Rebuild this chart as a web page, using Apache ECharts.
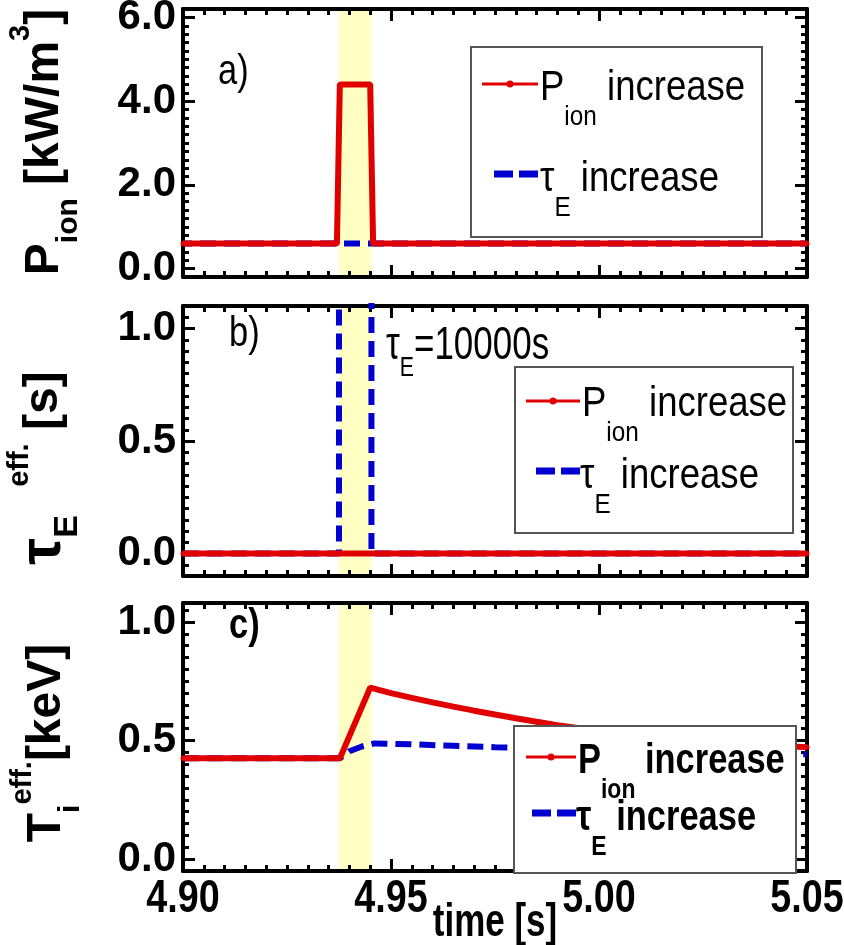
<!DOCTYPE html>
<html>
<head>
<meta charset="utf-8">
<script src="https://cdn.jsdelivr.net/npm/echarts@6/dist/echarts.min.js"></script>
<style>
  html, body { margin: 0; padding: 0; background: #fff; }
  #chart { width: 844px; height: 945px; }
</style>
</head>
<body>
<div id="chart"></div>
<script>
// ---- shared time axis [s] ----
const timeRange = [4.90, 5.05];
const timeTicks = [4.90, 4.95, 5.00, 5.05];
const timeMinorStep = 0.005;
// heating window (shaded)
const pulseWindow = [4.9375, 4.9453];

// ---- a) ion heating power density P_ion [kW/m^3] ----
const pionRange = [-0.2, 6.2];
const pionTicks = [0.0, 2.0, 4.0, 6.0];
const pionMinorStep = 0.2;
const timeA_pionCase = [4.900, 4.9370, 4.9377, 4.9450, 4.9457, 5.050];
const pion_pionCase  = [0.6,   0.6,    4.4,    4.4,    0.6,    0.6];
const timeA_tauCase  = [4.900, 5.050];
const pion_tauCase   = [0.6,   0.6];

// ---- b) effective energy confinement time tau_E [s] ----
const tauRange = [-0.1, 1.1];
const tauTicks = [0.0, 0.5, 1.0];
const tauMinorStep = 0.05;
const TAU_JUMP = 10000;
const timeB_pionCase = [4.900, 5.050];
const tau_pionCase   = [0.0,   0.0];
const timeB_tauCase  = [4.900, 4.9375, 4.9375, 4.9453, 4.9453, 5.050];
const tau_tauCase    = [0.0,   0.0,    TAU_JUMP, TAU_JUMP, 0.0,  0.0];

// ---- c) effective ion temperature T_i [keV] ----
const tiRange = [-0.05, 1.08];
const tiTicks = [0.0, 0.5, 1.0];
const tiMinorStep = 0.05;
const timeC_pionCase = [4.900, 4.9377, 4.945, 4.950, 4.955, 4.960, 4.965, 4.970, 4.975, 4.980,
                        4.985, 4.990, 5.000, 5.010, 5.020, 5.030, 5.040, 5.050];
const ti_pionCase    = [0.425, 0.425, 0.723, 0.700, 0.680, 0.661, 0.643, 0.626, 0.610, 0.594,
                        0.579, 0.565, 0.540, 0.520, 0.505, 0.492, 0.481, 0.472];
const timeC_tauCase  = [4.900, 4.9377, 4.940, 4.943, 4.946, 4.955, 4.965, 4.975, 4.985, 5.000, 5.020, 5.050];
const ti_tauCase     = [0.425, 0.425, 0.455, 0.475, 0.488, 0.484, 0.478, 0.472, 0.467, 0.460, 0.452, 0.442];

// ---- styling ----
const RED = '#e00000';
const BLUE = '#0000d0';
const SHADE = '#ffffc4';
const FONT = "'Liberation Sans', Arial, sans-serif";
const NARROW = 0.82;        // horizontal squeeze that gives the narrow Helvetica look
const NARROW_LEGEND = 0.87; // regular-weight legend text

const grids = [
  { left: 183, right: 37, top: 9,   height: 268, outerBoundsMode: 'none' },
  { left: 183, right: 37, top: 306, height: 270, outerBoundsMode: 'none' },
  { left: 183, right: 37, top: 603, height: 268, outerBoundsMode: 'none' }
];

function steps(lo, hi, step) {
  const out = [];
  const k0 = Math.ceil(lo / step - 1e-9), k1 = Math.floor(hi / step + 1e-9);
  for (let k = k0; k <= k1; k++) out.push(+(k * step).toFixed(6));
  return out;
}

const zip = (xs, ys) => xs.map((x, i) => [x, ys[i]]);

// Four axes per dimension draw a closed frame with inward major and minor ticks.
function frameAxes(dim, gi, range, majors, minorStep, withLabels) {
  const minors = steps(range[0], range[1], minorStep);
  const sides = dim === 'x' ? ['bottom', 'top'] : ['left', 'right'];
  const axes = [];
  sides.forEach((pos, si) => {
    [true, false].forEach(isMajor => {
      const ax = {
        type: 'value', gridIndex: gi, position: pos,
        min: range[0], max: range[1],
        splitLine: { show: false },
        axisLine: { show: isMajor, onZero: false, lineStyle: { color: '#000', width: 4 } },
        axisTick: {
          show: true, inside: true, length: isMajor ? 12 : 6,
          customValues: isMajor ? majors : minors,
          lineStyle: { color: '#000', width: 3 }
        },
        axisLabel: { show: false }
      };
      if (isMajor && si === 0 && withLabels) {
        ax.axisLabel = {
          show: true, customValues: majors, formatter: v => v.toFixed(1),
          color: '#000', fontFamily: FONT, fontWeight: 'bold', fontSize: 42, margin: 7
        };
      }
      axes.push(ax);
    });
  });
  return axes;
}

const yRanges = [pionRange, tauRange, tiRange];
const yTicks = [pionTicks, tauTicks, tiTicks];
const yMinor = [pionMinorStep, tauMinorStep, tiMinorStep];

const xAxes = [], yAxes = [];
for (let gi = 0; gi < 3; gi++) {
  xAxes.push(...frameAxes('x', gi, timeRange, timeTicks, timeMinorStep, false));
  yAxes.push(...frameAxes('y', gi, yRanges[gi], yTicks[gi], yMinor[gi], true));
}

function lineSeries(gi, name, xs, ys, color, dashed, z, dashOffset) {
  return {
    type: 'line', name, xAxisIndex: gi * 4, yAxisIndex: gi * 4,
    data: zip(xs, ys),
    showSymbol: !dashed, symbol: 'circle', symbolSize: 5,
    itemStyle: { color },
    lineStyle: { color, width: 6, type: dashed ? [16, 8] : 'solid', dashOffset: dashOffset || 0 },
    clip: true, animation: false, z
  };
}

const series = [];
const bundles = [
  [timeA_pionCase, pion_pionCase, timeA_tauCase, pion_tauCase],
  [timeB_pionCase, tau_pionCase, timeB_tauCase, tau_tauCase],
  [timeC_pionCase, ti_pionCase, timeC_tauCase, ti_tauCase]
];
bundles.forEach((b, gi) => {
  const tauSeries = lineSeries(gi, '\u03c4E increase', b[2], b[3], BLUE, true, 2, gi === 0 ? 7 : 0);
  tauSeries.markArea = {
    silent: true, itemStyle: { color: SHADE }, z: 0,
    data: [[{ xAxis: pulseWindow[0] }, { xAxis: pulseWindow[1] }]]
  };
  series.push(tauSeries);
  series.push(lineSeries(gi, 'Pion increase', b[0], b[1], RED, false, 3));
});

// ---- text helpers ----
function richSet(color, weight, main, sub, subPad) {
  return {
    m: { fontSize: main, fontWeight: weight, fontFamily: FONT, color, lineHeight: main, verticalAlign: 'top' },
    s: { fontSize: sub, fontWeight: weight, fontFamily: FONT, color, lineHeight: sub, verticalAlign: 'top', padding: [subPad, 0, 0, 0] }
  };
}

function legendBox(box, rows, bold) {
  const w = bold ? 'bold' : 'normal';
  const els = [{
    type: 'rect', shape: { x: box[0], y: box[1], width: box[2], height: box[3] },
    style: { fill: '#fff', stroke: '#555', lineWidth: 2 }, z: 50
  }];
  rows.forEach(r => {
    if (r.kind === 'solid') {
      els.push({ type: 'line', shape: { x1: r.sx[0], y1: r.sy, x2: r.sx[1], y2: r.sy },
        style: { stroke: RED, lineWidth: 3 }, z: 51 });
      els.push({ type: 'circle', shape: { cx: (r.sx[0] + r.sx[1]) / 2, cy: r.sy, r: 3.5 },
        style: { fill: RED }, z: 51 });
    } else {
      els.push({ type: 'line', shape: { x1: r.sx[0], y1: r.sy, x2: r.sx[1], y2: r.sy },
        style: { stroke: BLUE, lineWidth: 7, lineDash: [19, 6] }, z: 51 });
    }
    els.push({ type: 'text', x: r.tx, y: r.ty, z: 52, scaleX: bold ? NARROW : NARROW_LEGEND,
      style: { text: r.text, rich: richSet(r.color, w, 42, 28, 36), verticalAlign: 'top', align: 'left' } });
  });
  return els;
}

const pionLabel = '{m|P}{s|ion}{m| increase}';
const tauLabel = '{m|\u03c4}{s|E}{m| increase}';

function tag(text, x, yMid, bold) {
  return { type: 'text', x, y: yMid, z: 60, scaleX: NARROW,
    style: { text, fontSize: 42, fontWeight: bold ? 'bold' : 'normal', fontFamily: FONT, fill: '#000', verticalAlign: 'middle' } };
}

// rotated y-axis titles (sub- and superscripts through rich text)
function yTitle(text, x, yMid) {
  const tok = (size, pad) => ({ fontSize: size, fontWeight: 'bold', fontFamily: FONT, color: '#000',
    lineHeight: size, verticalAlign: 'top', padding: [pad, 0, 0, 0] });
  return { type: 'text', x, y: yMid, rotation: Math.PI / 2, z: 60,
    style: {
      text, align: 'center', verticalAlign: 'top',
      rich: {
        m:   tok(48, 15),
        big: tok(60, 8),
        sub: tok(30, 48),
        subB: tok(34, 46),
        sup: tok(29, 0)
      }
    } };
}

const chart = echarts.init(document.getElementById('chart'), null, { renderer: 'canvas' });
chart.setOption({
  animation: false,
  backgroundColor: '#fff',
  grid: grids,
  xAxis: xAxes,
  yAxis: yAxes,
  series
});

// time tick labels and axis title under the lowest panel, placed through its x scale
const bottomX = 8, bottomY = 8;
const frameBottom = chart.convertToPixel({ yAxisIndex: bottomY }, tiRange[0]);
const timeLabels = timeTicks.map(v => ({
  type: 'text', x: chart.convertToPixel({ xAxisIndex: bottomX }, v), y: frameBottom + 28, z: 60, scaleX: NARROW,
  style: { text: v.toFixed(2), align: 'center', verticalAlign: 'middle', fontSize: 46, fontWeight: 'bold', fontFamily: FONT, fill: '#000' }
}));
const timeName = {
  type: 'text', x: chart.convertToPixel({ xAxisIndex: bottomX }, 4.975), y: frameBottom + 52, z: 60, scaleX: 0.76,
  style: { text: 'time [s]', align: 'center', verticalAlign: 'middle', fontSize: 46, fontWeight: 'bold', fontFamily: FONT, fill: '#000' }
};

chart.setOption({
  graphic: [
    ...legendBox([471, 47, 291, 190], [
      { kind: 'solid', sx: [482, 538], sy: 84, tx: 540, ty: 67, text: pionLabel, color: RED },
      { kind: 'dash', sx: [494, 538], sy: 174, tx: 540, ty: 158, text: tauLabel, color: BLUE }
    ], false),
    ...legendBox([515, 367, 278, 166], [
      { kind: 'solid', sx: [526, 580], sy: 401, tx: 582, ty: 383, text: pionLabel, color: RED },
      { kind: 'dash', sx: [536, 580], sy: 471, tx: 580, ty: 455, text: tauLabel, color: BLUE }
    ], false),
    ...legendBox([514, 726, 282, 147], [
      { kind: 'solid', sx: [526, 576], sy: 757, tx: 578, ty: 740, text: pionLabel, color: RED },
      { kind: 'dash', sx: [532, 576], sy: 813, tx: 576, ty: 797, text: tauLabel, color: BLUE }
    ], true),
    tag('a)', 218, 72, false),
    tag('b)', 229, 334, false),
    tag('c)', 229, 626, true),
    { type: 'text', x: 386, y: 323, z: 60, scaleX: 0.76, style: {
        text: '{m|\u03c4}{s|E}{m|=' + TAU_JUMP + 's}', verticalAlign: 'top', align: 'left',
        rich: richSet(BLUE, 'normal', 46, 28, 31) } },
    yTitle('{m|P}{sub|ion}{m| [kW/m}{sup|3}{m|]}', 6, 142),
    yTitle('{big|\u03c4}{subB|E   }{sup|eff.}{m| [s]}', 5, 468),
    yTitle('{m|T}{sub|i}{sup|eff.}{m|[keV]}', 8, 743),
    ...timeLabels,
    timeName
  ]
});
</script>
</body>
</html>
